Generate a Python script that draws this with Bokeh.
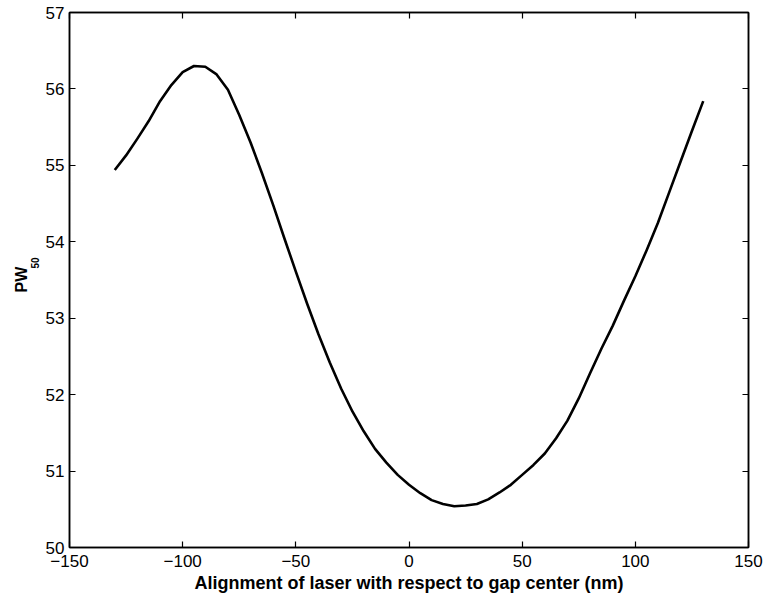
from bokeh.plotting import figure
from bokeh.models import (ColumnDataSource, Range1d, LinearAxis, FixedTicker, Title,
                          CustomLabelingPolicy)
from bokeh.embed import file_html
from bokeh.resources import INLINE

# Data
x_nm = [-130, -125, -120, -115, -110, -105, -100, -95, -90, -85, -80, -75, -70,
        -65, -60, -55, -50, -45, -40, -35, -30, -25, -20, -15, -10, -5, 0,
        5, 10, 15, 20, 25, 30, 35, 40, 45, 50, 55, 60, 65, 70, 75, 80, 85,
        90, 95, 100, 105, 110, 115, 120, 125, 130]
pw50 = [54.94, 55.13, 55.35, 55.58, 55.84, 56.05, 56.22, 56.30, 56.29, 56.19,
        55.99, 55.66, 55.30, 54.90, 54.48, 54.04, 53.61, 53.19, 52.79, 52.42,
        52.08, 51.78, 51.52, 51.29, 51.11, 50.95, 50.82, 50.71, 50.62, 50.57,
        50.54, 50.55, 50.57, 50.63, 50.72, 50.82, 50.95, 51.08, 51.23, 51.43,
        51.66, 51.95, 52.28, 52.60, 52.90, 53.23, 53.55, 53.89, 54.25, 54.65,
        55.05, 55.45, 55.84]

x_ticks = [-150, -100, -50, 0, 50, 100, 150]
y_ticks = [50, 51, 52, 53, 54, 55, 56, 57]
x_tick_labels = {t: str(t).replace("-", "\u2212") for t in x_ticks}
y_tick_labels = {t: str(t) for t in y_ticks}
x_label = "Alignment of laser with respect to gap center (nm)"
y_label_main = "PW"
y_label_sub = "50"

FONT = "Liberation Sans"

p = figure(width=764, height=597, output_backend="svg", toolbar_location=None,
           x_range=Range1d(-150, 150), y_range=Range1d(50, 57),
           min_border_left=69, min_border_right=16, min_border_top=12,
           min_border_bottom=50, x_axis_location=None, y_axis_location=None)
p.grid.visible = False
p.outline_line_color = "black"
p.outline_line_width = 1.5
p.background_fill_color = "white"
p.border_fill_color = "white"

src = ColumnDataSource(dict(x=x_nm, y=pw50))
p.line("x", "y", source=src, line_color="black", line_width=2.6,
       line_join="round")


def style_axis(ax, ticks, overrides, show_labels):
    ax.ticker = FixedTicker(ticks=ticks)
    ax.major_label_overrides = overrides
    ax.minor_tick_line_color = None
    ax.major_tick_in = 6
    ax.major_tick_out = 0
    ax.major_tick_line_color = "black"
    ax.major_tick_line_width = 1.2
    ax.axis_line_color = "black"
    ax.axis_line_width = 1.5
    ax.major_label_text_font = FONT
    ax.major_label_text_color = "black"
    if show_labels:
        ax.major_label_text_font_size = "17px"
    else:
        ax.major_label_text_font_size = "0px"
        ax.major_label_standoff = 0
        ax.major_label_policy = CustomLabelingPolicy(code="""
            const all = Array.from(indices)
            for (const i of all) { indices.unset(i) }
            return indices
        """)


xb = LinearAxis()
style_axis(xb, x_ticks, x_tick_labels, True)
xb.major_label_standoff = 7
xb.axis_label = x_label
xb.axis_label_text_font = FONT
xb.axis_label_text_font_size = "18px"
xb.axis_label_text_font_style = "bold"
xb.axis_label_text_color = "black"
xb.axis_label_standoff = 3
p.add_layout(xb, "below")

yl = LinearAxis()
style_axis(yl, y_ticks, y_tick_labels, True)
yl.major_label_standoff = 5
p.add_layout(yl, "left")

# y label "PW" with subscript "50" as two vertical titles on the left side
# (align="left": offset measured upward from the frame bottom)
sub_title = Title(text=y_label_sub, align="left", offset=279,
                  vertical_align="top", text_font=FONT,
                  text_font_size="10px", text_font_style="bold",
                  text_color="black", standoff=3)
p.add_layout(sub_title, "left")
main_title = Title(text=y_label_main, align="left", offset=255, text_font=FONT,
                   text_font_size="16px", text_font_style="bold",
                   text_color="black", standoff=0)
p.add_layout(main_title, "left")

xt = LinearAxis()
style_axis(xt, x_ticks, {}, False)
p.add_layout(xt, "above")

yr = LinearAxis()
style_axis(yr, y_ticks, {}, False)
p.add_layout(yr, "right")

open("out.html", "w").write(file_html(p, INLINE))
